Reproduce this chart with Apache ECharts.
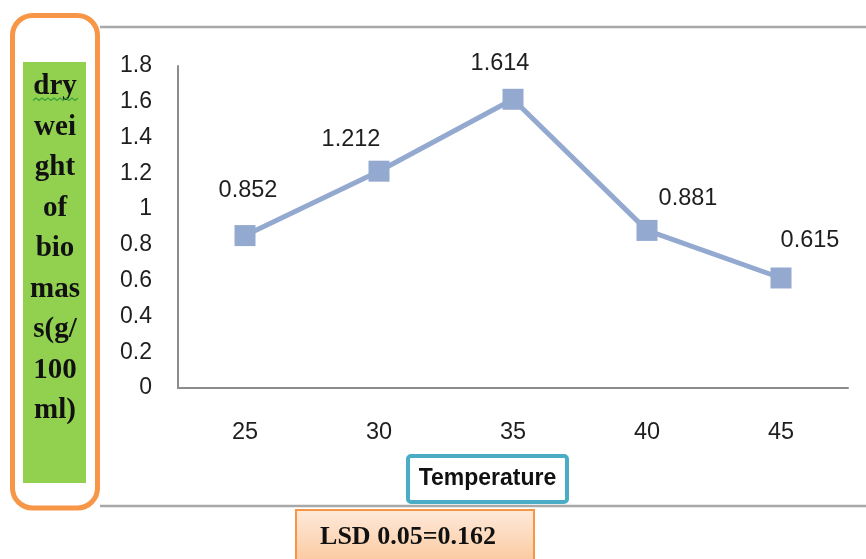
<!DOCTYPE html>
<html>
<head>
<meta charset="utf-8">
<script src="https://cdn.jsdelivr.net/npm/echarts@6/dist/echarts.min.js"></script>
<style>
  html, body { margin: 0; padding: 0; background: #ffffff; }
  #chart { width: 866px; height: 559px; }
</style>
</head>
<body>
<div id="chart"></div>
<script>
// Dry biomass weight at each incubation temperature
const temperatures = ['25', '30', '35', '40', '45'];
const dryWeight = [0.852, 1.212, 1.614, 0.881, 0.615];
const yTicks = { min: 0, max: 1.8, step: 0.2 };

// Where each value label sits relative to its marker (px)
const labelOffsets = [[3, -45], [-28, -32], [-13, -36], [41, -32], [29, -37]];

const yTitleLines = ['dry', 'wei', 'ght', 'of', 'bio', 'mas', 's(g/', '100', 'ml)'];
const xTitle = 'Temperature';
const lsdNote = 'LSD 0.05=0.162';

const chart = echarts.init(document.getElementById('chart'), null, { renderer: 'canvas' });

const seriesColor = '#94a9d0';
const textColor = '#1e1e1e';
const sansFont = '"Liberation Sans", Arial, sans-serif';
const serifFont = '"Liberation Serif", "Times New Roman", serif';

// small zig-zag under the first word of the axis title
const squiggle = [];
for (let i = 0; i <= 15; i++) {
  squiggle.push([33 + i * 3, i % 2 === 0 ? 100.5 : 98]);
}

chart.setOption({
  animation: false,
  backgroundColor: '#ffffff',
  grid: { left: 178, right: 18, top: 66, bottom: 171, containLabel: false },
  xAxis: {
    type: 'category',
    data: temperatures,
    boundaryGap: true,
    axisLine: { show: true, lineStyle: { color: '#8c8c8c', width: 2 } },
    axisTick: { show: false },
    axisLabel: { color: textColor, fontFamily: sansFont, fontSize: 23.5, margin: 33 },
    splitLine: { show: false }
  },
  yAxis: {
    type: 'value',
    min: yTicks.min,
    max: yTicks.max,
    interval: yTicks.step,
    axisLine: { show: true, lineStyle: { color: '#8c8c8c', width: 2 } },
    axisTick: { show: false },
    splitLine: { show: false },
    axisLabel: {
      color: textColor,
      fontFamily: sansFont,
      fontSize: 23,
      margin: 26,
      formatter: v => String(parseFloat(v.toFixed(1)))
    }
  },
  series: [{
    type: 'line',
    data: dryWeight.map((v, i) => ({
      value: v,
      label: { offset: labelOffsets[i] }
    })),
    symbol: 'rect',
    symbolSize: 21,
    lineStyle: { color: seriesColor, width: 5 },
    itemStyle: { color: seriesColor },
    label: {
      show: true,
      position: 'inside',
      color: textColor,
      fontFamily: sansFont,
      fontSize: 23.5,
      formatter: p => p.value.toFixed(3)
    },
    z: 3
  }],
  graphic: [
    // outer frame lines of the chart box
    { type: 'line', shape: { x1: 100, y1: 27, x2: 866, y2: 27 },
      style: { stroke: '#a8a8a8', lineWidth: 2.5 }, z: 1 },
    { type: 'line', shape: { x1: 100, y1: 506, x2: 866, y2: 506 },
      style: { stroke: '#a8a8a8', lineWidth: 2.5 }, z: 1 },
    // rounded orange frame around the vertical title
    { type: 'rect', shape: { x: 12.5, y: 15.5, width: 85, height: 492.5, r: 20 },
      style: { fill: '#ffffff', stroke: '#f79646', lineWidth: 5 }, z: 2 },
    { type: 'rect', shape: { x: 23, y: 62, width: 63, height: 421 },
      style: { fill: '#92d050' }, z: 3 },
    { type: 'text', x: 55, y: 249, z: 4,
      style: {
        text: yTitleLines.join('\n'),
        fill: '#111111',
        font: 'bold 29px ' + serifFont,
        lineHeight: 40.5,
        align: 'center',
        verticalAlign: 'middle'
      } },
    { type: 'polyline', shape: { points: squiggle }, z: 5,
      style: { stroke: '#3aa23a', lineWidth: 1.2, fill: null } },
    // x axis title box
    { type: 'rect', shape: { x: 408, y: 456, width: 159, height: 46, r: 3 },
      style: { fill: '#ffffff', stroke: '#4bacc6', lineWidth: 4 }, z: 2 },
    { type: 'text', x: 487.5, y: 479, z: 3,
      style: {
        text: xTitle,
        fill: '#111111',
        font: 'bold 23px ' + sansFont,
        align: 'center',
        verticalAlign: 'middle'
      } },
    // LSD note
    { type: 'rect', shape: { x: 296, y: 510, width: 238, height: 60 },
      style: {
        fill: new echarts.graphic.LinearGradient(0, 0, 0, 1, [
          { offset: 0, color: '#feeadb' },
          { offset: 1, color: '#fbc497' }
        ]),
        stroke: '#f79646', lineWidth: 2
      }, z: 2 },
    { type: 'text', x: 408, y: 537, z: 3,
      style: {
        text: lsdNote,
        fill: '#111111',
        font: 'bold 26px ' + serifFont,
        align: 'center',
        verticalAlign: 'middle'
      } }
  ]
});
</script>
</body>
</html>
